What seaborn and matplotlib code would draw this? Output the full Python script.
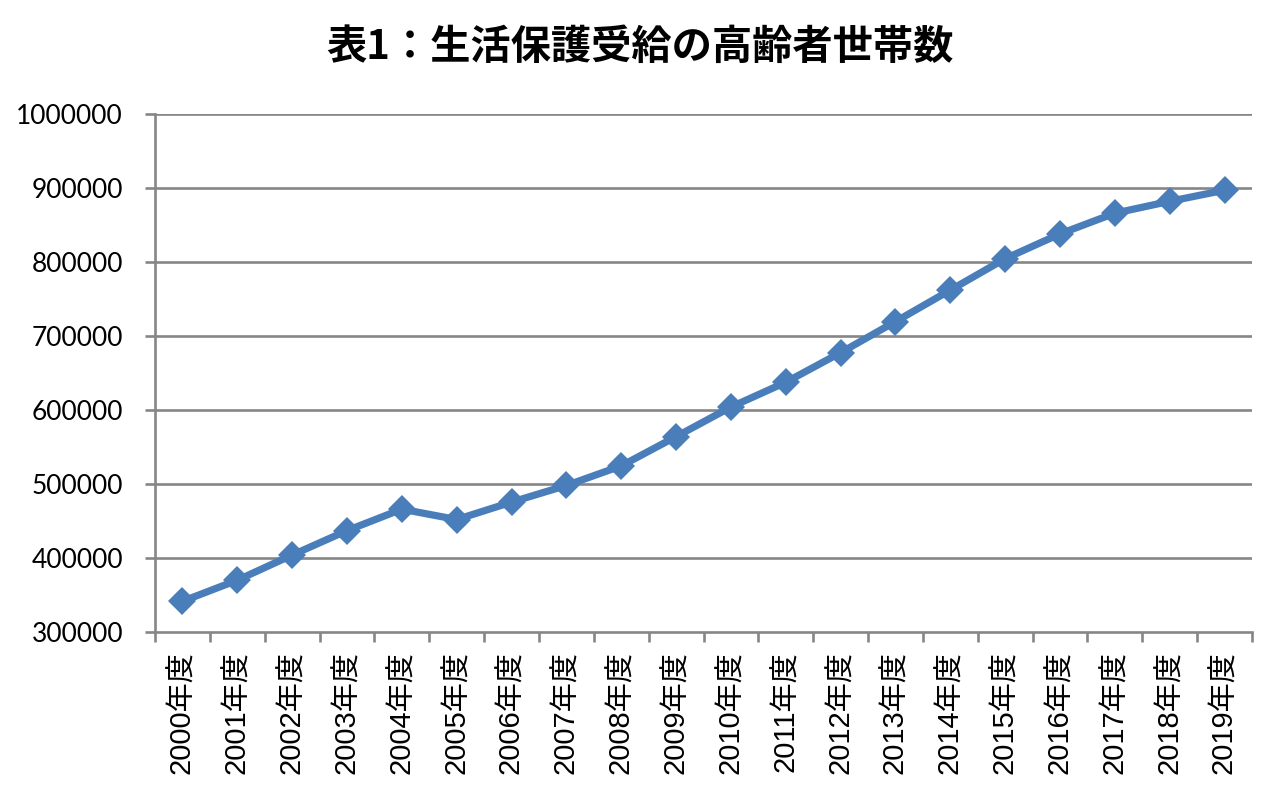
import matplotlib
matplotlib.use("Agg")
import matplotlib.pyplot as plt
import seaborn as sns
import pandas as pd
from matplotlib.ticker import FixedLocator

years = ["2000年度", "2001年度", "2002年度", "2003年度", "2004年度", "2005年度",
         "2006年度", "2007年度", "2008年度", "2009年度", "2010年度", "2011年度",
         "2012年度", "2013年度", "2014年度", "2015年度", "2016年度", "2017年度",
         "2018年度", "2019年度"]
households = [341500, 370000, 404000, 437000, 466000, 452000, 475500, 498000,
              524500, 564000, 604000, 637500, 677500, 719500, 762000, 804500,
              838000, 866000, 882000, 897000]
yticks = [300000, 400000, 500000, 600000, 700000, 800000, 900000, 1000000]
title = "表1：生活保護受給の高齢者世帯数"

sns.set_theme(style="white", rc={"text.color": "black", "xtick.color": "black",
                                 "ytick.color": "black"})
plt.rcParams['font.family'] = ['Noto Sans CJK JP', 'DejaVu Sans']

df = pd.DataFrame({"year": years, "value": households})
df["pos"] = range(len(years))

fig = plt.figure(figsize=(12.8, 7.92), dpi=100)
ax = fig.add_axes([155/1280, 1-632/792, (1252-155)/1280, (632-114)/792])

grid_c = "#868686"
for t in yticks[1:]:
    ax.axhline(t, color=grid_c, lw=1.9, zorder=1)

sns.lineplot(data=df, x="pos", y="value", ax=ax, color="#4a7ebb", lw=5.2,
             marker="D", markersize=14, markeredgewidth=0, sort=False, zorder=3)

ax.set_xlim(-0.5, len(years) - 0.5)
ax.set_ylim(yticks[0], yticks[-1])
ax.set_yticks(yticks)
ax.set_yticklabels([str(v) for v in yticks], family=['Lato', 'DejaVu Sans'], fontsize=19, color='black')
ax.set_xticks(range(len(years)))
ax.set_xticklabels(years, rotation=90, fontsize=21, color='black',
                   family=['Liberation Sans', 'Noto Sans CJK JP', 'DejaVu Sans'])
ax.xaxis.set_minor_locator(FixedLocator([i - 0.5 for i in range(len(years) + 1)]))
ax.tick_params(axis='x', which='major', length=0, pad=14)
ax.tick_params(axis='x', which='minor', length=7, width=1.9, color=grid_c, direction='out', bottom=True)
ax.tick_params(axis='y', which='major', length=7, width=1.9, color=grid_c, direction='out', pad=16, left=True)
ax.set_xlabel("")
ax.set_ylabel("")

for s in ["top", "right"]:
    ax.spines[s].set_visible(False)
for s in ["left", "bottom"]:
    ax.spines[s].set_color(grid_c)
    ax.spines[s].set_linewidth(1.9)

fig.text(0.5, 1 - 47/792, title, ha="center", va="center", fontsize=29, color="black",
         fontweight="bold", family=['Noto Sans CJK JP', 'DejaVu Sans'])

fig.savefig("out.png", dpi=100, facecolor="white")
